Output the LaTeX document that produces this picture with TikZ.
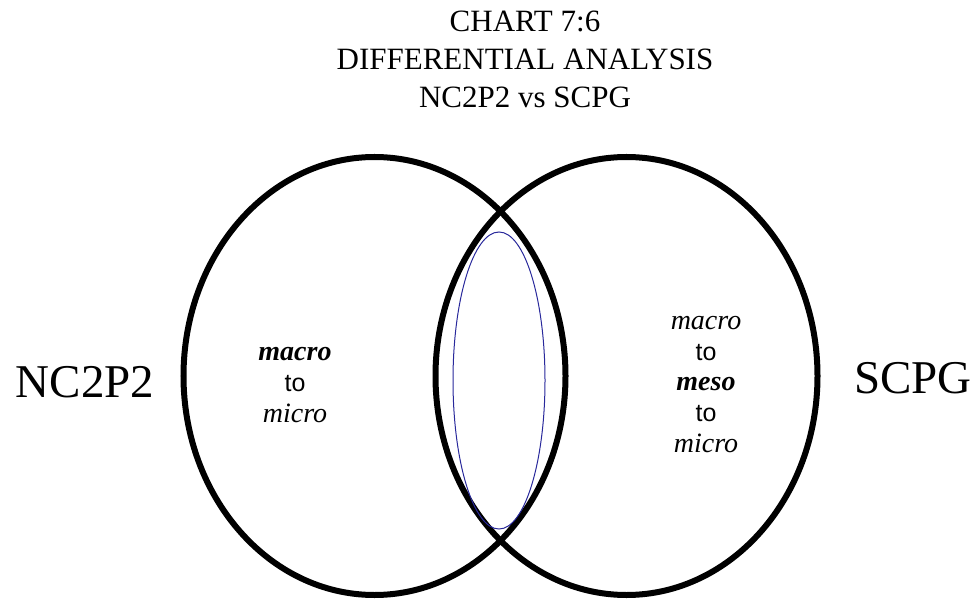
\documentclass[tikz,border=0pt]{standalone}
\usepackage{fontspec}
\setmainfont{Liberation Serif}
\newfontfamily\plainsans{Liberation Sans}
\usetikzlibrary{shapes.geometric}
\definecolor{coreblue}{RGB}{40,40,155}
\begin{document}
\begin{tikzpicture}[x=1bp,y=-1bp,
  ring/.style={draw=black,line width=6bp,ellipse,inner sep=0pt,
    minimum width=382bp,minimum height=438bp},
  core/.style={draw=coreblue,line width=1bp,ellipse,inner sep=0pt,
    minimum width=92bp,minimum height=297bp},
  heading/.style={anchor=base,inner sep=0pt,font=\fontsize{31bp}{36bp}\selectfont},
  side/.style={anchor=base,inner sep=0pt,font=\fontsize{47bp}{52bp}\selectfont},
  word/.style={anchor=base,inner sep=0pt,font=\fontsize{28bp}{32bp}\selectfont\itshape},
  keyword/.style={word,font=\fontsize{28bp}{32bp}\selectfont\bfseries\itshape},
  joiner/.style={anchor=base,inner sep=0pt,font=\fontsize{25bp}{30bp}\selectfont\plainsans}]
\useasboundingbox (0,0) rectangle (976,601);

% title block
\node[heading] (t1) at (525,32) {CHART 7:6};
\node[heading] (t2) at (525,70) {DIFFERENTIAL ANALYSIS};
\node[heading] (t3) at (525,108) {NC2P2 vs SCPG};

% the two sets and their overlap
\node[ring] (leftset) at (374.5,376) {};
\node[ring] (rightset) at (626.5,376) {};
\node[core] (overlap) at (499,380.5) {};

% set names
\node[side] (nc) at (85,397) {NC2P2};
\node[side] (sc) at (913,393) {SCPG};

% left set contents
\node[keyword] (l1) at (295,360) {macro};
\node[joiner]  (l2) at (295,391) {to};
\node[word]    (l3) at (295,422) {micro};

% right set contents
\node[word]    (r1) at (706,329) {macro};
\node[joiner]  (r2) at (706,360) {to};
\node[keyword] (r3) at (706,390.5) {meso};
\node[joiner]  (r4) at (706,421) {to};
\node[word]    (r5) at (706,452) {micro};
\end{tikzpicture}
\end{document}
